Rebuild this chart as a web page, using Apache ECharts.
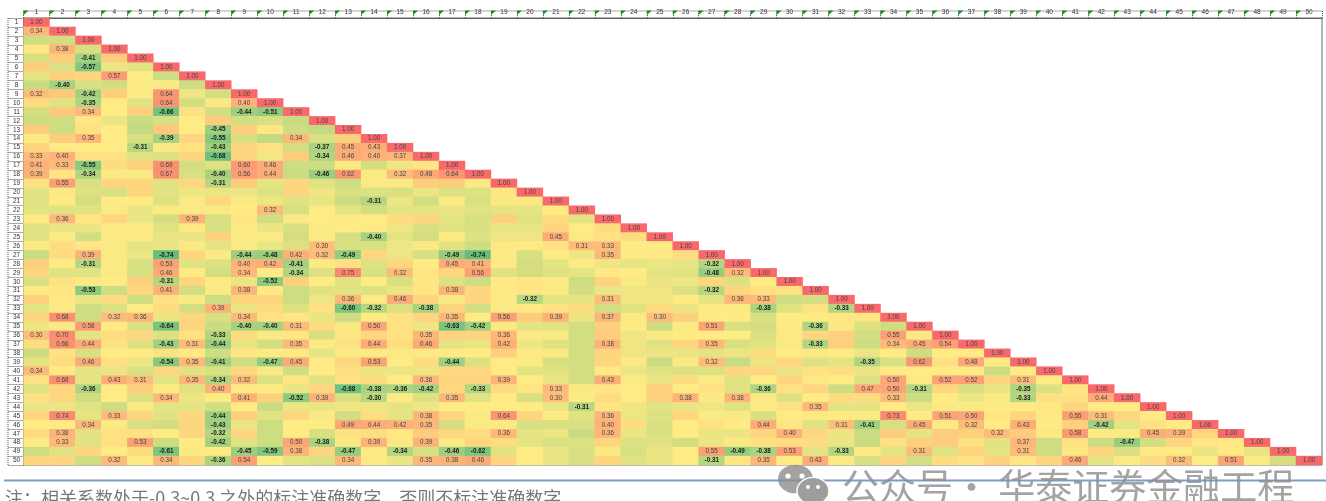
<!DOCTYPE html>
<html>
<head>
<meta charset="utf-8">
<script src="https://cdn.jsdelivr.net/npm/echarts@6/dist/echarts.min.js"></script>
<style>html,body{margin:0;padding:0;background:#fff;overflow:hidden}#c{width:1326px;height:501px;filter:blur(0.45px)}</style>
</head>
<body>
<div id="c"></div>
<script>
const labels = ["1","2","3","4","5","6","7","8","9","10","11","12","13","14","15","16","17","18","19","20","21","22","23","24","25","26","27","28","29","30","31","32","33","34","35","36","37","38","39","40","41","42","43","44","45","46","47","48","49","50"];
const r01 = [1];
const r02 = [.34,1];
const r03 = [-.2,-.17,1];
const r04 = [.08,.38,-.15,1];
const r05 = [-.15,.2,-.41,.2,1];
const r06 = [.2,-.13,-.57,-.05,-.1,1];
const r07 = [-.08,.18,.15,.57,.05,-.2,1];
const r08 = [-.22,-.40,-.15,-.17,.03,.03,-.2,1];
const r09 = [.32,.22,-.42,.18,.05,.64,-.03,-.17,1];
const r10 = [.12,-.1,-.35,.05,-.1,.64,-.17,.02,.40,1];
const r11 = [-.17,.22,.34,.05,.18,-.66,.1,-.17,-.44,-.51,1];
const r12 = [-.2,-.2,.08,-.05,-.22,-.15,.05,.2,-.18,-.15,-.22,1];
const r13 = [.2,-.2,.1,.05,-.25,.22,.05,-.45,.18,.08,-.2,-.25,1];
const r14 = [.03,.2,.35,.05,-.15,-.39,.15,-.55,-.15,-.25,.34,-.15,.18,1];
const r15 = [.15,.05,.05,.05,-.31,.03,.1,-.43,.15,.1,-.17,-.37,.45,.43,1];
const r16 = [.33,.40,.1,.1,-.1,-.12,.15,-.68,.15,-.02,.2,-.34,.46,.40,.37,1];
const r17 = [.41,.33,-.55,.12,.18,.69,-.18,-.12,.60,.46,-.2,-.2,.03,-.17,-.03,.08,1];
const r18 = [.39,.08,-.34,.03,.03,.67,-.15,-.40,.56,.44,-.22,-.46,.62,.03,.32,.48,.64,1];
const r19 = [.1,.55,-.15,.15,.15,-.1,.15,-.31,.2,-.08,.15,-.1,-.2,.03,.03,.2,.2,.03,1];
const r20 = [-.1,.03,-.12,-.15,.15,-.1,-.03,-.05,-.05,-.12,.15,-.03,-.15,-.12,-.15,-.05,-.12,-.12,.08,1];
const r21 = [-.1,.05,-.17,.05,.05,-.12,.03,.15,.03,-.03,-.1,-.06,-.22,-.31,-.05,-.18,.03,-.15,.03,.03,1];
const r22 = [-.08,-.1,-.1,.03,-.05,.03,.03,.03,.05,.32,-.15,.05,-.08,-.17,-.08,-.08,-.05,-.1,-.08,-.08,.05,1];
const r23 = [.06,.36,.08,.15,-.05,-.17,.39,-.15,.08,-.18,.03,.05,.04,.05,.12,.15,-.08,-.15,.18,-.1,.12,-.08,1];
const r24 = [-.1,-.05,-.05,.03,.03,-.1,.07,-.15,.04,-.05,-.15,.03,.05,.04,-.03,-.15,-.1,-.15,-.06,-.06,.15,.05,.12,1];
const r25 = [-.1,.03,-.18,.03,.03,-.06,-.05,.18,.03,.03,-.17,.03,-.15,-.40,-.08,-.17,.05,-.12,-.03,-.03,.45,.03,.1,.12,1];
const r26 = [.03,.12,.08,.03,-.08,-.06,.03,-.08,.03,-.05,-.12,.30,-.15,-.15,-.03,.03,-.1,-.2,.07,.06,.1,.31,.33,.05,.05,1];
const r27 = [-.22,.12,.39,.03,-.05,-.74,.15,.03,-.44,-.48,.42,.32,-.49,.15,-.05,-.15,-.49,-.74,.04,-.15,.05,-.04,.35,.04,.04,.12,1];
const r28 = [.18,.05,-.31,.03,-.15,.53,-.1,-.12,.40,.42,-.41,.03,.1,-.12,.15,.05,.45,.41,.04,-.17,-.08,.04,-.03,-.07,-.05,-.07,-.32,1];
const r29 = [.15,-.1,-.1,.03,-.15,.46,.05,-.17,.34,.05,-.34,-.12,.75,-.15,.32,.08,.15,.56,-.1,-.17,-.1,-.08,.04,.05,-.08,-.1,-.48,.32,1];
const r30 = [-.15,.1,.03,.05,.18,-.31,.15,.03,-.05,-.52,.18,.05,-.1,.05,-.15,.08,-.12,-.2,.05,.08,.05,-.2,.17,.03,-.05,-.03,.15,-.12,.05,1];
const r31 = [.04,.08,-.53,-.2,.15,.41,-.18,.03,.38,.06,-.2,-.1,-.1,-.12,-.05,.08,.38,.15,.06,.08,.03,-.18,-.05,-.04,-.03,-.13,-.32,.15,.1,.1,1];
const r32 = [.18,.07,-.05,.12,-.2,.1,.03,-.2,.15,.15,-.2,-.03,.36,.04,.46,.15,.03,.15,.03,-.32,-.08,-.07,.31,-.03,-.03,.05,-.08,.36,.33,-.2,-.17,1];
const r33 = [-.08,.03,-.2,-.12,.05,.12,-.18,.39,-.05,.12,-.12,.1,-.60,-.32,-.12,-.38,.15,-.18,.03,.06,.1,.12,-.18,-.1,.12,-.05,.03,.03,-.38,-.1,.1,-.33,1];
const r34 = [.15,.68,-.2,.32,.36,-.05,.15,-.15,.34,.1,.08,-.05,-.2,.05,.1,.15,.35,.05,.56,.2,.39,-.05,.37,.03,.30,.18,.05,.05,-.15,.05,.05,.08,.08,1];
const r35 = [-.05,.03,.58,.05,-.15,-.64,.15,-.22,-.40,-.40,.31,.12,.03,.50,.1,-.03,-.63,-.42,.03,-.08,-.1,-.18,.18,.05,-.2,.03,.51,-.15,-.17,.04,-.36,.03,-.12,-.2,1];
const r36 = [.30,.70,-.08,.12,.15,-.12,.1,-.33,.12,.03,.08,-.15,.08,.15,.1,.35,.17,.17,.36,.03,.03,-.18,.2,-.03,.03,.05,.05,.05,-.15,.03,.15,.18,-.18,.55,.03,1];
const r37 = [.12,.66,.44,.1,-.12,-.43,.31,-.44,-.05,-.18,.35,.03,.1,.44,.12,.46,-.08,-.05,.42,-.03,-.1,-.18,.38,-.03,-.1,.15,.35,-.15,-.1,.03,-.33,.18,-.2,.34,.45,.54,1];
const r38 = [-.2,.1,-.15,.05,.05,.1,.06,-.2,.08,.03,.03,-.08,.03,.03,.03,.03,.05,.05,.18,.03,.03,-.18,.15,-.03,-.05,-.05,-.08,-.05,.12,.05,.03,.05,-.05,.05,-.2,.05,.05,1];
const r39 = [-.08,.12,.46,.1,-.05,-.54,.35,-.41,-.2,-.47,.45,.05,.15,.53,.05,.12,-.44,-.12,.05,.03,-.15,-.18,.15,.03,-.22,.03,.32,-.22,-.05,.15,-.12,-.08,-.35,-.15,.62,.1,.48,.05,1];
const r40 = [.34,.05,-.08,-.05,-.15,.15,-.1,-.15,.15,.03,-.18,.05,.12,-.05,-.05,-.03,.15,.15,.05,-.08,-.1,-.18,.05,-.05,-.1,-.12,-.12,.15,.15,-.05,.1,.12,-.05,.05,.05,.05,.05,-.2,.05,1];
const r41 = [.1,.68,-.08,.43,.31,-.08,.35,-.34,.32,-.12,.08,-.1,.1,.12,.05,.36,.15,.15,.39,.05,-.05,-.18,.43,.03,-.05,.12,.03,-.1,.05,.15,.03,.05,-.12,.50,.03,.52,.52,.15,.31,.05,1];
const r42 = [-.1,.15,-.36,.05,.18,.05,-.1,.40,.05,.05,-.05,.15,-.68,-.38,-.36,-.42,.15,-.33,.12,.08,.33,.03,.08,.05,.18,.05,.1,-.1,-.36,.1,.15,-.2,.47,.50,-.31,.15,-.15,-.05,-.35,-.12,.08,1];
const r43 = [.1,.15,-.2,.05,-.12,.34,-.03,.05,.41,.18,-.52,.39,-.15,-.30,.05,-.12,.35,-.1,.05,-.15,.30,.03,.12,.05,.18,.38,.03,.38,.03,-.12,.05,.12,.12,.33,-.2,.05,-.05,.03,-.33,.1,.1,.44,1];
const r44 = [-.05,-.05,-.1,-.2,.03,-.08,-.08,-.18,.05,-.22,-.05,-.06,-.03,-.03,-.08,-.03,.05,.05,.05,.05,-.05,-.31,.08,-.03,-.1,-.05,-.03,-.1,.05,.1,.35,-.08,-.08,.05,-.05,.03,.03,.05,.05,.07,.15,.05,.05,1];
const r45 = [.15,.74,-.08,.33,.15,-.1,.15,-.44,.18,-.1,.15,.03,-.18,.12,-.08,.38,.15,.03,.64,.15,.05,-.1,.36,-.05,-.12,.15,.03,.03,-.15,.05,.03,.05,.03,.73,.05,.51,.50,.08,.15,.06,.55,.31,.15,.05,1];
const r46 = [.05,.05,.34,.03,-.15,-.18,.15,-.43,-.05,-.2,.05,.05,.49,.44,.42,.35,-.17,.03,.03,-.15,-.15,-.15,.40,.12,-.15,.05,.1,.05,.44,.08,-.1,.31,-.41,-.15,.45,.03,.32,.05,.43,.05,.18,-.42,-.08,.1,.05,1];
const r47 = [.12,.38,-.1,.1,.1,.05,.15,-.32,.15,-.2,.05,-.15,.1,.12,.07,.2,.15,.12,.36,-.08,-.05,-.22,.36,-.05,-.15,.05,-.05,-.05,.15,.40,.15,-.05,-.22,.2,-.08,.2,.18,.32,.2,.03,.58,.04,.03,.45,.39,.15,1];
const r48 = [.04,.33,-.1,.1,.53,-.2,.05,-.42,-.1,-.2,.50,-.38,.03,.39,.03,.39,.03,.15,.12,-.08,-.15,-.12,.15,-.12,-.1,-.18,-.05,.03,.1,.12,.12,-.05,-.22,.1,.18,.2,.1,-.1,.37,-.2,.1,-.2,-.47,-.18,.15,.08,.06,1];
const r49 = [-.2,-.1,.15,.05,.12,-.61,.03,.05,-.45,-.59,.38,.15,-.47,.04,-.34,-.15,-.46,-.62,-.1,.05,-.05,-.15,.03,-.15,-.05,.05,.55,-.49,-.38,.53,-.08,-.33,.05,-.08,.31,-.1,.15,-.08,.31,-.2,.03,.15,-.15,.06,.05,-.05,.05,-.05,1];
const r50 = [.15,.15,-.2,.32,.04,.34,.15,-.36,.54,.05,-.08,-.12,.34,.04,-.05,.35,.38,.46,.15,.05,-.05,-.15,.15,-.1,-.05,.05,-.31,.08,.35,.05,.43,.03,-.15,.15,-.18,.12,.1,.17,.08,.15,.46,-.08,.03,.12,.32,.05,.51,.03,-.17,1];
const rows = [r01,r02,r03,r04,r05,r06,r07,r08,r09,r10,r11,r12,r13,r14,r15,r16,r17,r18,r19,r20,r21,r22,r23,r24,r25,r26,r27,r28,r29,r30,r31,r32,r33,r34,r35,r36,r37,r38,r39,r40,r41,r42,r43,r44,r45,r46,r47,r48,r49,r50];

const caption = "注：相关系数处于-0.3~0.3 之外的标注准确数字，否则不标注准确数字";
const watermark = "公众号· 华泰证券金融工程";

const cellData = [];
rows.forEach((row, i) => row.forEach((v, j) => cellData.push([j, i, v])));

const MIN = -0.74, MAX = 1;
const stops = [[MIN,'#63BE7B'],[0.05,'#FFEB84'],[0.22,'#FDC87C'],[MAX,'#F8696B']];
const hex = c => [1,3,5].map(k => parseInt(c.slice(k,k+2),16));
const colorAt = v => {
  let i = 0;
  while (i < stops.length-2 && v > stops[i+1][0]) i++;
  const [a,ca] = stops[i], [b,cb] = stops[i+1], t = (v-a)/(b-a);
  return 'rgb(' + hex(ca).map((x,k)=>Math.round(x+(hex(cb)[k]-x)*t)).join(',') + ')';
};
const ramp = [];
for (let k = 0; k <= 174; k++) ramp.push(colorAt(MIN + (MAX-MIN)*k/174));

const NUM = '"Liberation Sans", Arial, sans-serif';
const CJK = '"Noto Sans CJK SC", sans-serif';
const chart = echarts.init(document.getElementById('c'), null, {renderer:'canvas'});
const dash = {color:'#555', type:[1,1], width:1};
chart.setOption({
  animation:false,
  backgroundColor:'#fff',
  grid:{left:23.5, top:18, width:1298.5, height:447, show:true, borderColor:'#666', borderWidth:1, backgroundColor:'transparent'},
  xAxis:{type:'category', position:'top', data:labels, splitArea:{show:false}, splitLine:{show:false},
    axisLine:{show:true, lineStyle:dash},
    axisTick:{show:true, length:7, interval:0, lineStyle:dash},
    axisLabel:{interval:0, fontSize:6.5, color:'#333', margin:2, fontFamily:NUM}},
  yAxis:{type:'category', inverse:true, data:labels, splitArea:{show:false}, splitLine:{show:false},
    axisLine:{show:true, lineStyle:dash},
    axisTick:{show:true, length:15.5, interval:0, lineStyle:dash},
    axisLabel:{interval:0, fontSize:6.5, color:'#333', margin:7, align:'center', fontFamily:NUM}},
  visualMap:{show:false, type:'continuous', min:MIN, max:MAX, dimension:2, seriesIndex:0, inRange:{color:ramp}},
  series:[
    {type:'heatmap', data:cellData, progressive:0, itemStyle:{borderWidth:0},
      emphasis:{disabled:true},
      label:{show:true, fontSize:6.3, color:'#444', fontFamily:NUM,
        rich:{n:{fontSize:6.3, color:'#1a1a1a', fontWeight:'bold', fontFamily:NUM}},
        formatter:p => {
          const v = p.value[2];
          if (Math.abs(v) < 0.3) return '';
          return v < 0 ? '{n|' + v.toFixed(2) + '}' : v.toFixed(2);
        }}},
    {type:'custom', data:labels.map((l,i)=>[i,0]), encode:{x:0,y:1}, silent:true, z:5,
      renderItem:(params, api) => {
        const c = api.coord([api.value(0), 0]);
        const s = api.size([1,1]);
        const l = c[0]-s[0]/2, t = c[1]-s[1]/2-7.5;
        return {type:'polygon', shape:{points:[[l,t],[l+5,t],[l,t+4.5]]}, style:{fill:'#0f8f16'}};
      }}
  ],
  graphic:[
    {type:'line', shape:{x1:23.5,y1:11,x2:1322,y2:11}, style:{stroke:'#555', lineDash:[1,1], lineWidth:1}},
    {type:'line', shape:{x1:8,y1:18,x2:8,y2:465}, style:{stroke:'#555', lineDash:[1,1], lineWidth:1}},
    {type:'line', shape:{x1:4,y1:480.5,x2:1326,y2:480.5}, style:{stroke:'#7f9ec6', lineWidth:2}, z:5},
    {type:'circle', shape:{cx:795.5,cy:479,r:17.5}, scaleY:0.82, originX:795.5, originY:479, style:{fill:'rgba(140,140,140,0.8)'}, z:10},
    {type:'circle', shape:{cx:788,cy:476,r:2.6}, style:{fill:'#fff'}, z:11},
    {type:'circle', shape:{cx:802,cy:476,r:2.6}, style:{fill:'#fff'}, z:11},
    {type:'circle', shape:{cx:813,cy:491,r:16}, scaleY:0.85, originX:813, originY:491, style:{fill:'#9d9d9d', stroke:'#fff', lineWidth:1.5}, z:12},
    {type:'circle', shape:{cx:808,cy:487,r:2}, style:{fill:'#fff'}, z:13},
    {type:'circle', shape:{cx:818,cy:487,r:2}, style:{fill:'#fff'}, z:13},
    {type:'text', x:842, y:487, z:14, style:{text:watermark, fill:'rgba(140,140,140,0.8)', font:'37px '+CJK, textVerticalAlign:'middle'}},
    {type:'text', x:5, y:498, z:14, style:{text:caption, fill:'#777', font:'18px '+CJK, textVerticalAlign:'middle'}}
  ]
});
</script>
</body>
</html>
